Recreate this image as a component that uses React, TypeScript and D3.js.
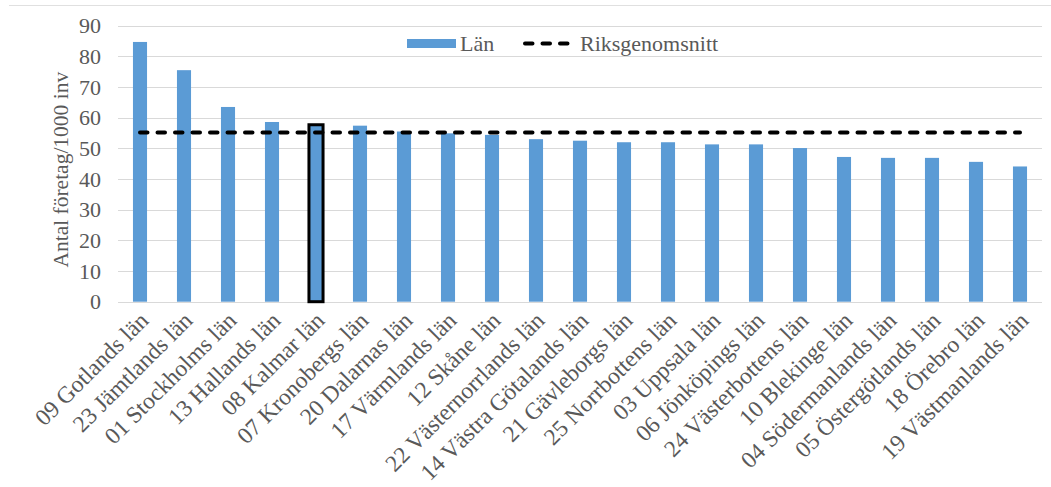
import React from "react";
import * as d3 from "d3";

const categories = [
  "09 Gotlands län",
  "23 Jämtlands län",
  "01 Stockholms län",
  "13 Hallands län",
  "08 Kalmar län",
  "07 Kronobergs län",
  "20 Dalarnas län",
  "17 Värmlands län",
  "12 Skåne län",
  "22 Västernorrlands län",
  "14 Västra Götalands län",
  "21 Gävleborgs län",
  "25 Norrbottens län",
  "03 Uppsala län",
  "06 Jönköpings län",
  "24 Västerbottens län",
  "10 Blekinge län",
  "04 Södermanlands län",
  "05 Östergötlands län",
  "18 Örebro län",
  "19 Västmanlands län",
];

const lanValues = [
  84.7, 75.5, 63.5, 58.6, 57.7, 57.4, 55.5, 54.9, 54.4, 53.0, 52.5, 52.0, 52.0,
  51.3, 51.3, 50.1, 47.2, 46.9, 46.9, 45.6, 44.1,
];

const riksValue = 55.2;
const highlighted = "08 Kalmar län";
const yTicks = [0, 10, 20, 30, 40, 50, 60, 70, 80, 90];
const yTitle = "Antal företag/1000 inv";
const legendLabels = ["Län", "Riksgenomsnitt"];

const W = 1051;
const H = 487;
const FONT = "'Liberation Serif', 'Times New Roman', serif";
const TEXT = "#595959";
const BAR = "#5b9bd5";
const GRID = "#d9d9d9";

export default function App() {
  const x = d3
    .scaleBand<string>()
    .domain(categories)
    .range([118, 1042])
    .paddingInner(0.68)
    .paddingOuter(0.34);
  const y = d3.scaleLinear().domain([0, 90]).range([301.7, 25.7]);

  const bw = x.bandwidth();
  const cx = (c: string) => (x(c) as number) + bw / 2;

  const lineGen = d3
    .line<string>()
    .x((c) => cx(c))
    .y(() => y(riksValue));

  const [xr0, xr1] = x.range();

  return (
    <svg
      width={W}
      height={H}
      style={{ position: "absolute", left: 0, top: 0, background: "#fff" }}
      fontFamily={FONT}
    >
      <line x1={9} x2={W} y1={5.5} y2={5.5} stroke="#e0e0e0" strokeWidth={1} />
      {yTicks.map((t) => (
        <line
          key={"g" + t}
          x1={xr0}
          x2={xr1}
          y1={Math.round(y(t)) + 0.5}
          y2={Math.round(y(t)) + 0.5}
          stroke={GRID}
          strokeWidth={1}
        />
      ))}
      {yTicks.map((t) => (
        <text
          key={"t" + t}
          x={101}
          y={y(t)}
          dy="0.35em"
          textAnchor="end"
          fontSize={22}
          fill={TEXT}
        >
          {t}
        </text>
      ))}
      <text
        transform={`translate(60, ${(y(0) + y(90)) / 2 + 6}) rotate(-90)`}
        textAnchor="middle"
        dy="0.35em"
        fontSize={21.5}
        fill={TEXT}
      >
        {yTitle}
      </text>
      {categories.map((c, i) => (
        <rect
          key={"b" + c}
          x={x(c)}
          y={y(lanValues[i])}
          width={bw}
          height={y(0) - y(lanValues[i])}
          fill={BAR}
          stroke={c === highlighted ? "#000" : "none"}
          strokeWidth={c === highlighted ? 3 : 0}
        />
      ))}
      <path
        d={lineGen(categories) || ""}
        fill="none"
        stroke="#000"
        strokeWidth={4}
        strokeDasharray="7.5,10"
        strokeLinecap="round"
      />
      {categories.map((c) => (
        <text
          key={"l" + c}
          transform={`translate(${cx(c) + 4}, 316) rotate(-45)`}
          textAnchor="end"
          dy="0.35em"
          fontSize={23.5}
          fill={TEXT}
        >
          {c}
        </text>
      ))}
      <rect x={407} y={39} width={49} height={9} fill={BAR} />
      <text x={460} y={43.5} dy="0.35em" fontSize={22} fill={TEXT}>
        {legendLabels[0]}
      </text>
      <line
        x1={525}
        x2={571}
        y1={43.5}
        y2={43.5}
        stroke="#000"
        strokeWidth={4}
        strokeDasharray="7.5,10"
        strokeLinecap="round"
      />
      <text x={580} y={43.5} dy="0.35em" fontSize={22} fill={TEXT}>
        {legendLabels[1]}
      </text>
    </svg>
  );
}
